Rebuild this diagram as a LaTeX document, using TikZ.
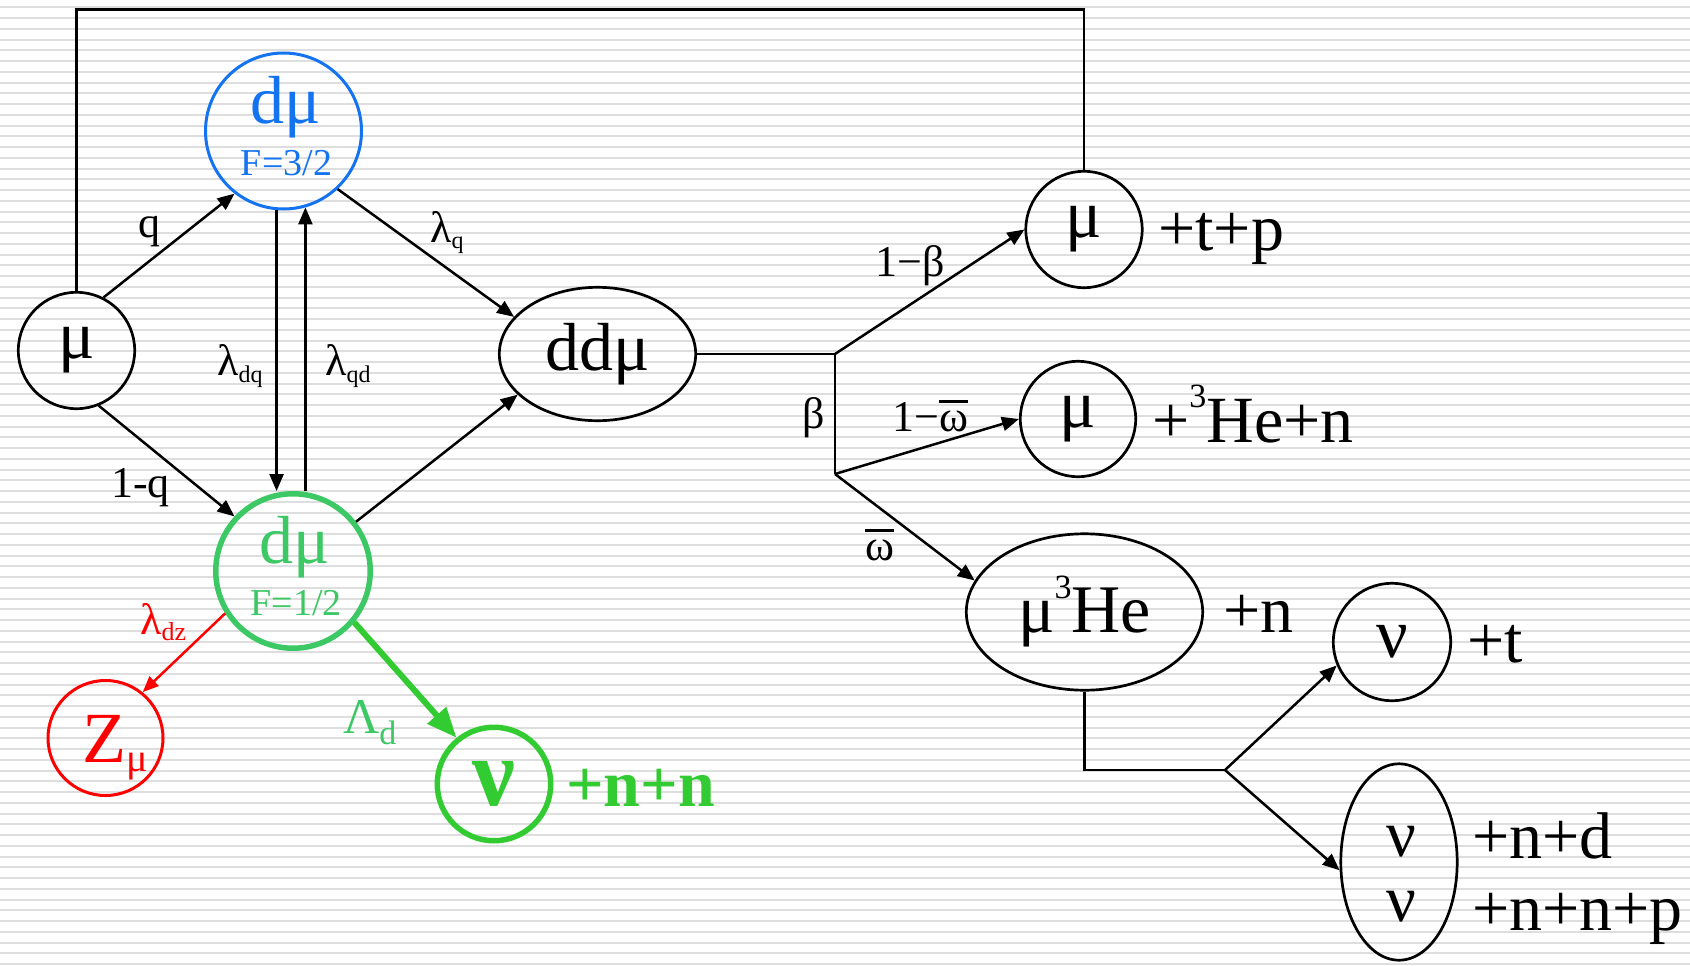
\documentclass[tikz,border=0pt]{standalone}
\usepackage{fontspec}
\setmainfont{Liberation Serif}
\usetikzlibrary{arrows.meta,shapes.geometric}
\definecolor{bluec}{RGB}{20,115,240}
\definecolor{mint}{RGB}{60,200,100}
\definecolor{grn}{RGB}{50,204,50}
\definecolor{stripe}{RGB}{222,222,222}
\newcommand\fs[1]{\fontsize{#1}{#1}\selectfont}
\newcommand\obar[1]{\leavevmode\vbox{\hrule height 3pt\kern 7pt\hbox{#1}}}
\begin{document}
\begin{tikzpicture}[x=1pt,y=-1pt,
  ln/.style={line width=2.5pt},
  arr/.style={ln,-{Triangle[length=17pt,width=14pt]}},
  shp/.style={draw,line width=2.7pt,inner sep=0pt},
  circ/.style={shp,circle},
  ell/.style={shp,ellipse},
  lab/.style={inner sep=0pt,font=\fs{44}},
  big/.style={inner sep=0pt,font=\fs{66}},
]
\fill[white] (0,0) rectangle (1690,966);
\foreach \i in {0,...,89} \fill[stripe] (0,{6.3+\i*10.75}) rectangle (1690,{8.3+\i*10.75});
\useasboundingbox (0,0) rectangle (1690,966);

% main nodes
\node[circ,minimum size=116.4pt,font=\fs{68}] (muL) at (76.5,350.5) {μ};
\node[circ,draw=bluec,line width=3pt,minimum size=156pt] (blue) at (283.5,131) {};
\node[big,anchor=base,text=bluec,font=\fs{68}] (blueA) at (286,123) {dμ};
\node[lab,anchor=base,text=bluec,font=\fs{38}] (blueB) at (286.5,175) {F=3/2};
\node[circ,draw=mint,line width=5.5pt,minimum size=154.5pt] (green) at (293,571) {};
\node[big,anchor=base,text=mint,font=\fs{68}] (greenA) at (295,563) {dμ};
\node[lab,anchor=base,text=mint,font=\fs{38}] (greenB) at (296,615) {F=1/2};
\node[ell,minimum width=196.4pt,minimum height=133.4pt,font=\fs{68}] (dd) at (597.5,354) {ddμ};
\node[circ,minimum size=116.4pt,font=\fs{68}] (muTP) at (1084,229.5) {μ};
\node[circ,minimum size=115.4pt,font=\fs{68}] (muHe) at (1078,419) {μ};
\node[ell,minimum width=236.4pt,minimum height=156.4pt,font=\fs{68}] (he3) at (1084.5,612) {μ\raisebox{34pt}{\fs{34}3}He};
\node[circ,minimum size=117.4pt,font=\fs{70}] (nuT) at (1392,642) {ν};
\node[ell,minimum width=116.4pt,minimum height=196.4pt] (nu2) at (1399,862) {};
\node[big,anchor=base,font=\fs{66}] (nuA) at (1401.5,856) {ν};
\node[big,anchor=base,font=\fs{66}] (nuB) at (1401.5,921) {ν};
\node[circ,draw=red,line width=3pt,minimum size=115pt] (Z) at (105.5,738) {};
\node[big,anchor=base west,text=red,font=\fs{72}] (ZT) at (82,762) {Z\raisebox{-9pt}{\fs{40}μ}};
\node[circ,draw=grn,line width=5.5pt,minimum size=113.5pt,font=\fs{96}\bfseries,text=grn] (nuG) at (494,784) {ν};

% product texts
\node[big,anchor=base west] (tTP) at (1158,250) {+t+p};
\node[big,anchor=base west] (tHe) at (1152,442) {+\raisebox{35pt}{\fs{34}3}He+n};
\node[big,anchor=base west] (tn) at (1223,632) {+n};
\node[big,anchor=base west] (tt) at (1467,662) {+t};
\node[big,anchor=base west] (tnd) at (1472,858) {+n+d};
\node[big,anchor=base west] (tnnp) at (1472,930) {+n+n+p};
\node[big,anchor=base west,text=grn,font=\fs{66}\bfseries] (tnn) at (566,806) {+n+n};

% labels
\node[lab,anchor=base west] (lq) at (138,237) {q};
\node[lab,anchor=base west] (l1q) at (111,497) {1-q};
\node[lab,anchor=base west] (ldq) at (217,375) {λ\raisebox{-7pt}{\fs{24}dq}};
\node[lab,anchor=base west] (lqd) at (325,375) {λ\raisebox{-7pt}{\fs{24}qd}};
\node[lab,anchor=base west] (lq2) at (430,242) {λ\raisebox{-6pt}{\fs{24}q}};
\node[lab,anchor=base west,text=red] (ldz) at (140,634) {λ\raisebox{-6pt}{\fs{26}dz}};
\node[lab,anchor=base west,text=mint,font=\fs{50}] (LLd) at (343,733) {Λ\raisebox{-11pt}{\fs{34}d}};
\node[lab,anchor=base west] (lb) at (802,428) {β};
\node[lab,anchor=base west] (l1b) at (875,276) {1−β};
\node[lab,anchor=base west] (l1w) at (892,431) {1−\obar{ω}};
\node[lab,anchor=base west] (lw) at (865,560) {\obar{ω}};

% connectors
\coordinate (topL) at (76.5,9.5);
\coordinate (J1) at (835,354);
\coordinate (J2) at (835,474);
\coordinate (J4) at (1225,770);

\draw[ln] (muL.north) -- (muL.north |- topL) -| (muTP.north);
\draw[arr] (muL.63) -- (blue.232);
\draw[arr] (muL.292) -- (green.137);
\draw[arr] (blue.265) -- (blue.265 |- green.north);
\draw[arr] (green.north -| blue.286) -- (blue.286);
\draw[arr] (blue.313) -- (dd.156);
\draw[arr] (green.38) -- (dd.207);
\draw[ln] (dd.east) -- (J1) -- (J2);
\draw[arr] (J1) -- (muTP.west);
\draw[arr] (J2) -- (muHe.west);
\draw[arr] (J2) -- (he3.164);
\draw[ln] (he3.south) |- (J4);
\draw[arr] (J4) -- (nuT.203);
\draw[arr] (J4) -- (nu2.188);
\draw[red,line width=2.5pt,-{Triangle[length=16pt,width=13pt]}] (green.212) -- (Z.51);
\draw[grn,line width=6pt,-{Triangle[length=30pt,width=24pt]}] (green.320) -- (nuG.129);
\end{tikzpicture}
\end{document}
